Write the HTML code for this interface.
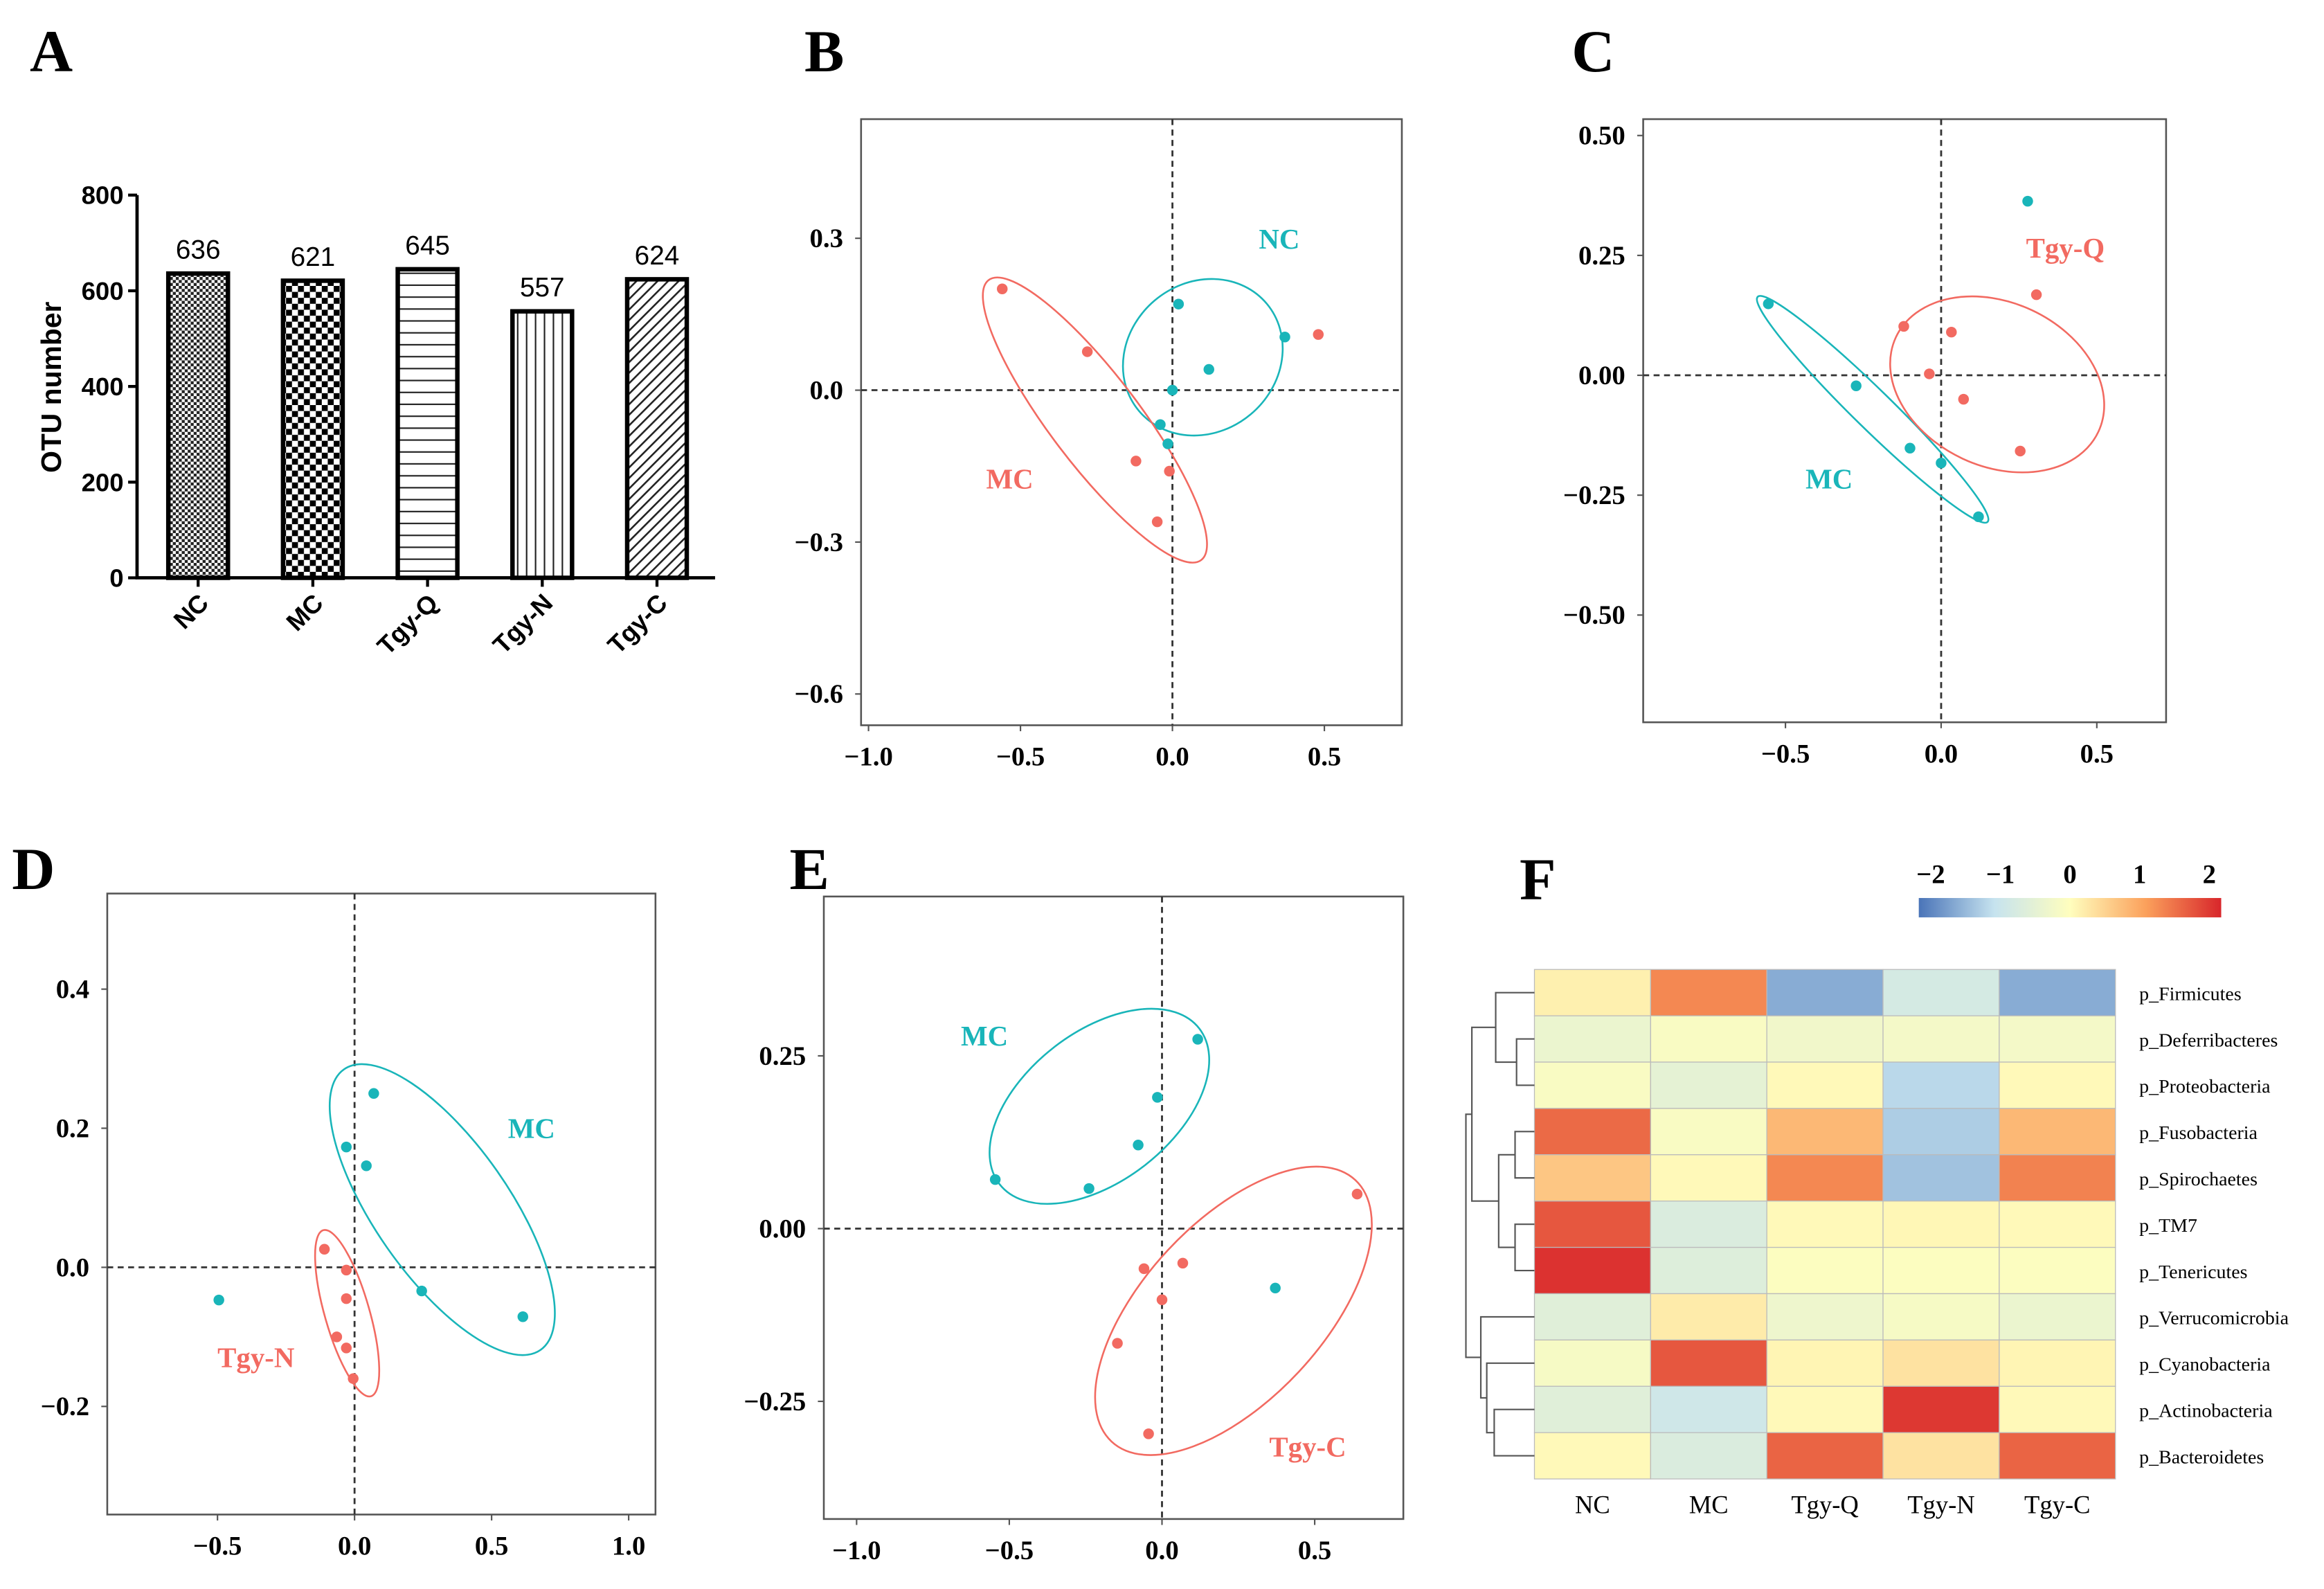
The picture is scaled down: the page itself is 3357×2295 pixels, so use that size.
<!DOCTYPE html>
<html><head><meta charset="utf-8">
<style>
html,body{margin:0;padding:0;background:#fff;}
svg{display:block;}
.pl{font-family:"Liberation Serif",serif;font-weight:bold;font-size:40px;fill:#000;}
.tk{font-family:"Liberation Serif",serif;font-weight:bold;font-size:18px;fill:#000;}
.ak{font-family:"Liberation Sans",sans-serif;font-weight:bold;font-size:17px;fill:#000;}
.yt{font-family:"Liberation Sans",sans-serif;font-weight:bold;font-size:19px;fill:#000;}
.vl{font-family:"Liberation Sans",sans-serif;font-size:18px;fill:#000;}
.gl{font-family:"Liberation Serif",serif;font-weight:bold;font-size:19px;}
.hm{font-family:"Liberation Serif",serif;font-size:13px;fill:#000;}
.hc{font-family:"Liberation Serif",serif;font-size:17px;fill:#000;}
</style></head>
<body>
<svg id="fig" width="3357" height="2295" viewBox="0 0 1560 1067" preserveAspectRatio="none" xmlns="http://www.w3.org/2000/svg">
<defs>
<pattern id="p0" width="4" height="4" patternUnits="userSpaceOnUse"><rect width="4" height="4" fill="#fff"/><rect width="2" height="2" fill="#222"/><rect x="2" y="2" width="2" height="2" fill="#222"/></pattern>
<pattern id="p1" width="8" height="8" patternUnits="userSpaceOnUse"><rect width="8" height="8" fill="#fff"/><rect width="4" height="4" fill="#000"/><rect x="4" y="4" width="4" height="4" fill="#000"/></pattern>
<pattern id="p2" width="8" height="8" patternUnits="userSpaceOnUse"><rect width="8" height="8" fill="#fff"/><rect y="7" width="8" height="1" fill="#222"/></pattern>
<pattern id="p3" width="6" height="8" patternUnits="userSpaceOnUse"><rect width="6" height="8" fill="#fff"/><rect x="5" width="1" height="8" fill="#222"/></pattern>
<pattern id="p4" width="5" height="5" patternUnits="userSpaceOnUse" patternTransform="rotate(45)"><rect width="5" height="5" fill="#fff"/><rect width="1.2" height="5" fill="#222"/></pattern>
<linearGradient id="cbar" x1="0" x2="1" y1="0" y2="0">
<stop offset="0" stop-color="#4a74b8"/><stop offset="0.25" stop-color="#c6e3ef"/><stop offset="0.5" stop-color="#fffebe"/><stop offset="0.75" stop-color="#fba15c"/><stop offset="1" stop-color="#d8262b"/>
</linearGradient>
</defs>
<g id="root"></g>
</svg>
<script>
const NS="http://www.w3.org/2000/svg";
const root=document.getElementById('root');
function mk(tag,attrs,parent,text){const e=document.createElementNS(NS,tag);for(const k in attrs)e.setAttribute(k,attrs[k]);if(text!==undefined)e.textContent=text;(parent||root).appendChild(e);return e;}

// ---------- Panel A data ----------
const barCategories=["NC","MC","Tgy-Q","Tgy-N","Tgy-C"];
const barValues=[636,621,645,557,624];
const barTicks=[0,200,400,600,800];

// ---------- Scatter data ----------
const bRedX=[-0.56,-0.28,-0.12,-0.01,-0.05,0.48];
const bRedY=[0.20,0.076,-0.14,-0.16,-0.26,0.11];
const bTealX=[0.02,0.37,0.12,0.0,-0.04,-0.015];
const bTealY=[0.17,0.105,0.041,0.0,-0.068,-0.106];

const cTealX=[0.278,-0.555,-0.273,-0.10,0.0,0.12];
const cTealY=[0.363,0.149,-0.022,-0.152,-0.183,-0.295];
const cRedX=[-0.12,0.033,-0.038,0.072,0.306,0.254];
const cRedY=[0.102,0.09,0.003,-0.05,0.168,-0.158];

const dTealX=[0.07,-0.03,0.043,0.245,0.614,-0.495];
const dTealY=[0.25,0.173,0.146,-0.034,-0.071,-0.047];
const dRedX=[-0.11,-0.03,-0.03,-0.065,-0.03,-0.005];
const dRedY=[0.026,-0.004,-0.045,-0.10,-0.116,-0.16];

const eTealX=[0.117,-0.015,-0.078,-0.546,-0.239,0.371];
const eTealY=[0.274,0.19,0.121,0.071,0.058,-0.086];
const eRedX=[0.639,0.068,-0.059,0.0,-0.146,-0.044];
const eRedY=[0.05,-0.05,-0.058,-0.103,-0.166,-0.297];

// ---------- Heatmap data ----------
const hmCols=["NC","MC","Tgy-Q","Tgy-N","Tgy-C"];
const hmRows=["p_Firmicutes","p_Deferribacteres","p_Proteobacteria","p_Fusobacteria","p_Spirochaetes","p_TM7","p_Tenericutes","p_Verrucomicrobia","p_Cyanobacteria","p_Actinobacteria","p_Bacteroidetes"];
const hmValues=[
[0.15,1.2,-1.5,-0.75,-1.5],
[-0.35,-0.1,-0.25,-0.2,-0.2],
[-0.1,-0.45,0.05,-1.1,0.05],
[1.45,-0.1,0.75,-1.2,0.75],
[0.6,0.05,1.2,-1.3,1.25],
[1.6,-0.65,0.05,0.08,0.05],
[1.9,-0.6,-0.05,-0.05,-0.05],
[-0.55,0.2,-0.3,-0.15,-0.35],
[-0.15,1.6,0.1,0.3,0.1],
[-0.55,-0.85,0.05,1.85,0.05],
[0.05,-0.65,1.5,0.3,1.5]];
const cbTicks=[-2,-1,0,1,2];

// ---------- panel labels ----------
[["A",20,48],["B",540,48],["C",1055,48],["D",8,597],["E",530,597],["F",1020,604]].forEach(l=>{
 const t=mk('text',{x:l[1],y:l[2],class:'pl'},root,l[0]);
 
 
});

// ---------- Panel A ----------
(function(){
 const g=mk('g',{});
 
 
 const x0=92,x1=480,yTop=131,yBot=388,vmax=800;
 const ys=v=>yBot-(v/vmax)*(yBot-yTop);
 const step=77,first=133,bw=40;
 const xs=i=>first+i*step;
 const pats=["p0","p1","p2","p3","p4"];
 barValues.forEach((v,i)=>{
  const r=mk('rect',{x:xs(i)-bw/2,y:ys(v),width:bw,height:yBot-ys(v),fill:'url(#'+pats[i]+')',stroke:'#000','stroke-width':3},g);
  
  
  const t=mk('text',{x:xs(i),y:ys(v)-10,class:'vl','text-anchor':'middle'},g,String(v));
  
  
  mk('line',{x1:xs(i),x2:xs(i),y1:yBot,y2:yBot+6,stroke:'#000','stroke-width':2},g);
  const lb=mk('text',{x:0,y:0,class:'ak','text-anchor':'end',transform:`translate(${xs(i)+8},${yBot+18}) rotate(-45)`},g,barCategories[i]);
  
  
 });
 barTicks.forEach(v=>{
  mk('line',{x1:x0-6,x2:x0,y1:ys(v),y2:ys(v),stroke:'#000','stroke-width':2},g);
  const t=mk('text',{x:x0-9,y:ys(v)+6,class:'ak','text-anchor':'end'},g,String(v));
  
  
 });
 const ax=mk('path',{d:`M${x0},${yTop} V${yBot} H${x1}`,fill:'none',stroke:'#000','stroke-width':2.2},g);
 
 
 const yt=mk('text',{x:0,y:0,class:'yt','text-anchor':'middle',transform:`translate(41,260) rotate(-90)`},g,'OTU number');
 
 
})();

// ---------- Scatter panels ----------
const TEAL="#19b5b9",RED="#f26a61";
function scatter(cfg){
 const g=mk('g',{});
 
 
 const sx=v=>cfg.x0px+v*cfg.xu, sy=v=>cfg.y0px-v*cfg.yu;
 const box=mk('rect',{x:cfg.l,y:cfg.t,width:cfg.r-cfg.l,height:cfg.b-cfg.t,fill:'none',stroke:'#555','stroke-width':1.2},g);
 
 
 mk('line',{x1:cfg.l,x2:cfg.r,y1:sy(0),y2:sy(0),stroke:'#333','stroke-width':1.3,'stroke-dasharray':'4,3'},g);
 mk('line',{x1:sx(0),x2:sx(0),y1:cfg.t,y2:cfg.b,stroke:'#333','stroke-width':1.3,'stroke-dasharray':'4,3'},g);
 cfg.xt.forEach(v=>{
  mk('line',{x1:sx(v),x2:sx(v),y1:cfg.b,y2:cfg.b+4,stroke:'#555'},g);
  const t=mk('text',{x:sx(v),y:cfg.b+27,class:'tk','text-anchor':'middle'},g,(v<0?'\u2212':'')+Math.abs(v).toFixed(cfg.xd));
  
  
 });
 cfg.yt.forEach(v=>{
  mk('line',{x1:cfg.l-4,x2:cfg.l,y1:sy(v),y2:sy(v),stroke:'#555'},g);
  const t=mk('text',{x:cfg.l-12,y:sy(v)+6,class:'tk','text-anchor':'end'},g,(v<0?'\u2212':'')+Math.abs(v).toFixed(cfg.yd));
  
  
 });
 cfg.ell.forEach(e=>{
  const cx=sx(e.cx),cy=sy(e.cy);
  const el=mk('ellipse',{cx:cx,cy:cy,rx:e.rx,ry:e.ry,transform:`rotate(${e.a} ${cx} ${cy})`,fill:'none',stroke:e.c,'stroke-width':1.2},g);
  
  
 });
 cfg.series.forEach(s=>{
  s.x.forEach((xv,i)=>{
   const c=mk('circle',{cx:sx(xv),cy:sy(s.y[i]),r:3.6,fill:s.c},g);
   
   
  });
 });
 cfg.labels.forEach(lb=>{
  const t=mk('text',{x:lb.x,y:lb.y,class:'gl',fill:lb.c},g,lb.t);
  
  
 });
}
scatter({name:'pca-plot-b',l:578,r:941,t:80,b:487,x0px:787,xu:204,y0px:262,yu:340,
 xt:[-1,-0.5,0,0.5],xd:1,yt:[0.3,0,-0.3,-0.6],yd:1,
 ell:[{cx:0.1,cy:0.065,rx:56,ry:50,a:-40,c:TEAL},{cx:-0.255,cy:-0.059,rx:118,ry:30,a:52.8,c:RED}],
 series:[{x:bRedX,y:bRedY,c:RED,n:'mc'},{x:bTealX,y:bTealY,c:TEAL,n:'nc'}],
 labels:[{x:845,y:167,t:'NC',c:TEAL},{x:662,y:328,t:'MC',c:RED}]});
scatter({name:'pca-plot-c',l:1103,r:1454,t:80,b:485,x0px:1303,xu:209,y0px:252,yu:322,
 xt:[-0.5,0,0.5],xd:1,yt:[0.5,0.25,0,-0.25,-0.5],yd:2,
 ell:[{cx:-0.22,cy:-0.071,rx:108,ry:13,a:44.4,c:TEAL},{cx:0.18,cy:-0.019,rx:75,ry:55,a:25,c:RED}],
 series:[{x:cTealX,y:cTealY,c:TEAL,n:'mc'},{x:cRedX,y:cRedY,c:RED,n:'tgy-q'}],
 labels:[{x:1360,y:173,t:'Tgy-Q',c:RED},{x:1212,y:328,t:'MC',c:TEAL}]});
scatter({name:'pca-plot-d',l:72,r:440,t:600,b:1017,x0px:238,xu:184,y0px:851,yu:467,
 xt:[-0.5,0,0.5,1],xd:1,yt:[0.4,0.2,0,-0.2],yd:1,
 ell:[{cx:0.32,cy:0.083,rx:115,ry:45,a:55,c:TEAL},{cx:-0.027,cy:-0.066,rx:15,ry:58,a:-16,c:RED}],
 series:[{x:dTealX,y:dTealY,c:TEAL,n:'mc'},{x:dRedX,y:dRedY,c:RED,n:'tgy-n'}],
 labels:[{x:341,y:764,t:'MC',c:TEAL},{x:146,y:918,t:'Tgy-N',c:RED}]});
scatter({name:'pca-plot-e',l:553,r:942,t:602,b:1020,x0px:780,xu:205,y0px:825,yu:464,
 xt:[-1,-0.5,0,0.5],xd:1,yt:[0.25,0,-0.25],yd:2,
 ell:[{cx:-0.205,cy:0.177,rx:85,ry:50,a:-38,c:TEAL},{cx:0.234,cy:-0.119,rx:120,ry:60,a:-47,c:RED}],
 series:[{x:eTealX,y:eTealY,c:TEAL,n:'mc'},{x:eRedX,y:eRedY,c:RED,n:'tgy-c'}],
 labels:[{x:645,y:702,t:'MC',c:TEAL},{x:852,y:978,t:'Tgy-C',c:RED}]});

// ---------- Heatmap ----------
(function(){
 const g=mk('g',{});
 
 
 const L=1030,T=651,cw=78,rh=31.1;
 const stops=[[-2,[74,116,184]],[-1,[198,227,239]],[0,[255,254,190]],[1,[251,161,92]],[2,[216,38,43]]];
 function col(v){v=Math.max(-2,Math.min(2,v));for(let i=0;i<4;i++){const a=stops[i],b=stops[i+1];if(v<=b[0]){const t=(v-a[0])/(b[0]-a[0]);return 'rgb('+a[1].map((c,k)=>Math.round(c+(b[1][k]-c)*t)).join(',')+')';}}}
 hmValues.forEach((row,r)=>row.forEach((v,c)=>{
  const cell=mk('rect',{x:L+c*cw,y:T+r*rh,width:cw,height:rh,fill:col(v),stroke:'#bbb','stroke-width':0.6},g);
  
  
 }));
 hmRows.forEach((n,r)=>{
  const t=mk('text',{x:L+5*cw+16,y:T+r*rh+rh/2+5,class:'hm'},g,n);
  
  
 });
 hmCols.forEach((n,c)=>{
  const t=mk('text',{x:L+c*cw+cw/2,y:T+11*rh+23,class:'hc','text-anchor':'middle'},g,n);
  
  
 });
 const cbL=1288,cbR=1491,cbY=603;
 const cb=mk('rect',{x:cbL,y:cbY,width:cbR-cbL,height:13,fill:'url(#cbar)'},g);
 
 
 cbTicks.forEach(v=>{
  const x=cbL+8+(v+2)/4*(cbR-cbL-16);
  const t=mk('text',{x:x,y:593,class:'tk','text-anchor':'middle'},g,(v<0?'\u2212':'')+Math.abs(v));
  
  
 });
 const yc=i=>T+i*rh+rh/2;
 const dg=mk('g',{stroke:'#555','stroke-width':1,fill:'none'},g);
 
 
 function join(ya,xa,yb,xb,xm){mk('path',{d:`M${xa},${ya} H${xm} V${yb} H${xb}`},dg);return (ya+yb)/2;}
 const m12=join(yc(1),L,yc(2),L,1018);
 const m012=join(yc(0),L,m12,1018,1004);
 const m34=join(yc(3),L,yc(4),L,1017);
 const m56=join(yc(5),L,yc(6),L,1017);
 const m3456=join(m34,1017,m56,1017,1006);
 const top=join(m012,1004,m3456,1006,988);
 const m910=join(yc(9),L,yc(10),L,1003);
 const m8=join(yc(8),L,m910,1003,998);
 const bot=join(yc(7),L,m8,998,994);
 join(top,988,bot,994,984);
})();
</script>
</body></html>
